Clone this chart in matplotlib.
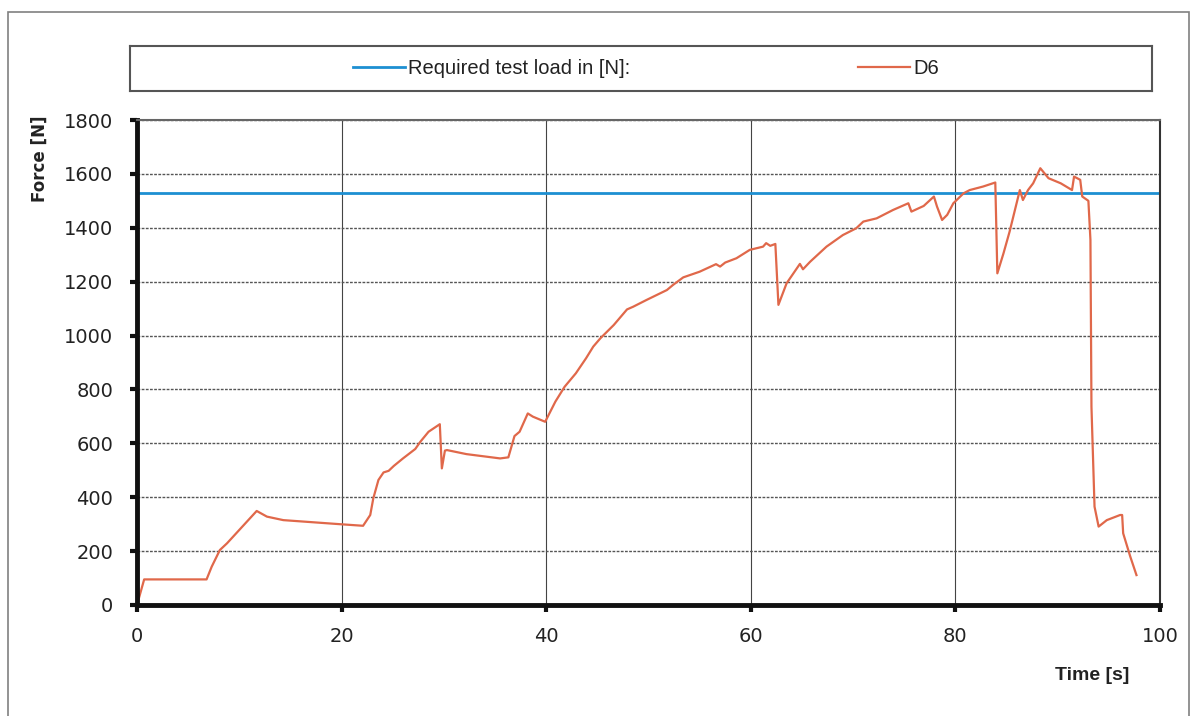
import matplotlib
matplotlib.use('Agg')
import matplotlib.pyplot as plt
from matplotlib.patches import Rectangle

# required test load (constant)
t_req = [0, 100]
f_req = [1530, 1530]

# measured force curve D6
t_d6 = [0, 0.7, 6.8, 7.3, 8.1, 8.8, 11.7, 12.7, 14.3, 19.8, 22.1, 22.8, 23.1, 23.6,
        24.1, 24.6, 25.1, 26.0, 27.2, 27.7, 28.5, 29.6, 29.8, 30.1, 30.3, 32.2, 35.5,
        36.3, 36.9, 37.4, 38.2, 38.7, 39.9, 40.9, 41.8, 42.9, 43.9, 44.6, 45.3, 46.6,
        47.9, 48.5, 49.8, 51.8, 52.4, 53.4, 55.0, 56.6, 57.0, 57.5, 58.6, 59.9, 61.2,
        61.5, 61.9, 62.4, 62.7, 63.5, 64.8, 65.1, 65.8, 67.4, 69.0, 70.3, 71.0, 72.3,
        73.9, 75.4, 75.7, 76.9, 77.9, 78.2, 78.7, 79.2, 79.8, 80.8, 81.4, 82.7, 83.9,
        84.1, 84.7, 85.3, 86.3, 86.6, 87.1, 87.6, 88.3, 89.1, 90.3, 91.4, 91.6, 92.2,
        92.4, 93.0, 93.2, 93.3, 93.6, 94.0, 94.8, 96.1, 96.3, 96.4, 97.1, 97.7]
f_d6 = [0, 95, 95, 142, 204, 229, 349, 328, 315, 300, 294, 334, 396, 464,
        492, 498, 516, 544, 579, 606, 643, 671, 507, 573, 575, 560, 544,
        548, 627, 643, 711, 699, 680, 755, 810, 860, 916, 959, 990, 1039,
        1097, 1107, 1132, 1169, 1188, 1216, 1237, 1265, 1256, 1271, 1287, 1318, 1330,
        1343, 1333, 1340, 1114, 1194, 1266, 1246, 1274, 1330, 1373, 1398, 1423, 1435,
        1466, 1491, 1460, 1481, 1516, 1479, 1429, 1448, 1491, 1528, 1540, 1553, 1568,
        1231, 1305, 1386, 1540, 1503, 1540, 1565, 1621, 1584, 1565, 1540, 1590, 1578,
        1516, 1500, 1355, 736, 365, 291, 315, 334, 334, 266, 179, 111]

x_ticks = [0, 20, 40, 60, 80, 100]
y_ticks = list(range(0, 2000, 200))

W, H = 1193, 716
fig = plt.figure(figsize=(W / 100, H / 100), dpi=100)
fig.patch.set_facecolor('white')

# outer frame of the scanned chart
fig.patches.append(Rectangle((8 / W, -0.05), (1189 - 8) / W, (716 - 12) / H + 0.05,
                             transform=fig.transFigure, fill=False,
                             edgecolor='#808080', lw=1.2))

ax = fig.add_axes([137 / W, (H - 605) / H, 1023 / W, 485 / H])
l_req, = ax.plot(t_req, f_req, color='#1d8fd2', lw=2.0)
l_d6, = ax.plot(t_d6, f_d6, color='#e0684a', lw=1.6)

ax.set_xlim(0, 100)
ax.set_ylim(0, 1800)
ax.set_xticks(x_ticks)
ax.set_yticks(y_ticks)
ax.tick_params(axis='both', direction='out', length=5, width=3, color='#111111',
               labelsize=14, labelcolor='#222222')
ax.tick_params(axis='y', pad=12)
ax.tick_params(axis='x', pad=11)
for lab in ax.get_xticklabels() + ax.get_yticklabels():
    lab.set_family('DejaVu Sans')

ax.grid(axis='y', color='#555555', lw=1.0, linestyle=(0, (2, 1)))
ax.grid(axis='x', color='#444444', lw=0.8)
ax.set_axisbelow(True)

ax.spines['left'].set_linewidth(3.5)
ax.spines['bottom'].set_linewidth(3.5)
ax.spines['left'].set_color('#111111')
ax.spines['bottom'].set_color('#111111')
ax.spines['top'].set_linewidth(1.5)
ax.spines['top'].set_color('#666666')
ax.spines['right'].set_linewidth(1.5)
ax.spines['right'].set_color('#333333')

ax.text((40 - 137) / 1023, (605 - 159) / 485, 'Force [N]', transform=ax.transAxes,
        rotation=90, ha='center', va='center', fontsize=12, fontweight='bold',
        family='DejaVu Sans', color='#222222')
ax.text((1092 - 137) / 1023, (605 - 675) / 485, 'Time [s]', transform=ax.transAxes,
        ha='center', va='center', fontsize=14, fontweight='bold',
        family='Liberation Sans', color='#222222')

# legend box
lax = fig.add_axes([130 / W, (H - 91) / H, 1022 / W, 45 / H])
lax.set_xticks([])
lax.set_yticks([])
for s in lax.spines.values():
    s.set_color('#555555')
    s.set_linewidth(1.5)

leg_kw = dict(loc='center left', frameon=False, borderpad=0, borderaxespad=0,
              handlelength=2.6, handletextpad=0.15,
              prop={'family': 'Liberation Sans', 'size': 14.5})
leg1 = lax.legend(handles=[l_req], labels=['Required test load in [N]:'],
                  bbox_to_anchor=((353 - 130) / 1022, 0.5), **leg_kw)
lax.add_artist(leg1)
leg2 = lax.legend(handles=[l_d6], labels=['D6'],
                  bbox_to_anchor=((858 - 130) / 1022, 0.5), **leg_kw)
for leg in (leg1, leg2):
    for txt in leg.get_texts():
        txt.set_color('#222222')

fig.savefig('out.png', dpi=100)
